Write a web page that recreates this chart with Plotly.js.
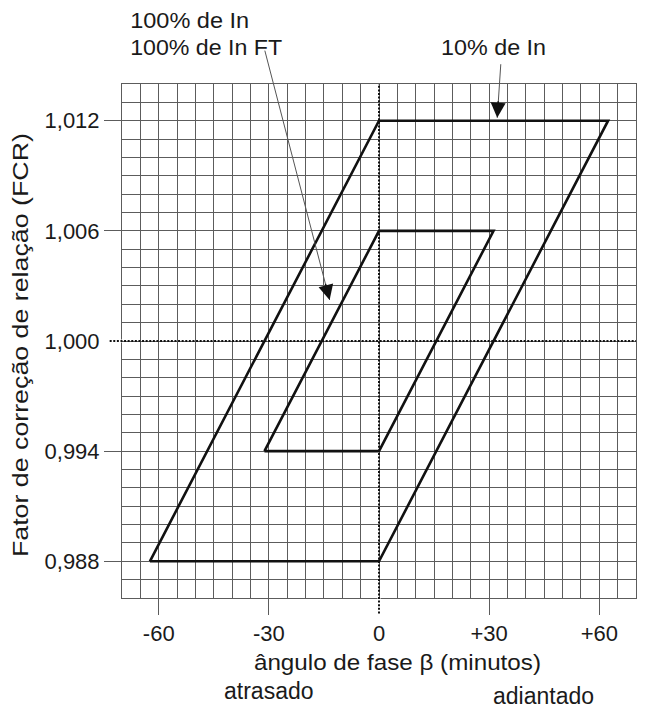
<!DOCTYPE html>
<html>
<head>
<meta charset="utf-8">
<script src="https://cdn.plot.ly/plotly-3.0.1.min.js"></script>
<style>
html,body{margin:0;padding:0;background:#fff;}
#chart{width:648px;height:709px;}
</style>
</head>
<body>
<div id="chart"></div>
<script>
// Data (phase angle β in minutes, FCR)
const outerPhase = [-62.4, 0, 62.4, 0, -62.4];
const outerFcr   = [0.988, 0.988, 1.012, 1.012, 0.988];
const innerPhase = [-31.2, 0, 31.2, 0, -31.2];
const innerFcr   = [0.994, 0.994, 1.006, 1.006, 0.994];
const xTickVals = [-60, -30, 0, 30, 60];
const xTickText = ['-60', '-30', '0', '+30', '+60'];
const yTickVals = [0.988, 0.994, 1.000, 1.006, 1.012];
const yTickText = ['0,988', '0,994', '1,000', '1,006', '1,012'];

const gridColor = '#5c5c5c';
const fam = 'Liberation Sans, Arial, sans-serif';
const tickFont = {family: fam, size: 22, color: '#1a1a1a'};
const annFont = {family: fam, size: 22, color: '#1a1a1a'};
const titleFont = {family: fam, size: 22, color: '#1a1a1a'};
const sideFont = {family: fam, size: 23, color: '#1a1a1a'};

const traces = [
  {x: outerPhase, y: outerFcr, mode: 'lines', line: {color: '#111', width: 2.6}, hoverinfo: 'none', showlegend: false},
  {x: innerPhase, y: innerFcr, mode: 'lines', line: {color: '#111', width: 2.6}, hoverinfo: 'none', showlegend: false}
];

const layout = {
  width: 648, height: 709,
  margin: {l: 122, r: 12, t: 84, b: 111},
  paper_bgcolor: '#fff', plot_bgcolor: '#fff',
  font: tickFont,
  showlegend: false,
  xaxis: {
    range: [-70, 70], tickvals: xTickVals, ticktext: xTickText,
    ticks: 'outside', ticklen: 16, tickwidth: 1, tickcolor: gridColor,
    showgrid: true, gridcolor: gridColor, gridwidth: 1,
    minor: {dtick: 5, tick0: 0, showgrid: true, gridcolor: gridColor, gridwidth: 1, ticks: ''},
    zeroline: false, showline: true, mirror: true, linecolor: gridColor, linewidth: 1,
    tickfont: tickFont, fixedrange: true
  },
  yaxis: {
    range: [0.986, 1.014], tickvals: yTickVals, ticktext: yTickText,
    ticks: 'outside', ticklen: 17, tickwidth: 1, tickcolor: gridColor,
    showgrid: true, gridcolor: gridColor, gridwidth: 1,
    minor: {dtick: 0.001, tick0: 0.986, showgrid: true, gridcolor: gridColor, gridwidth: 1, ticks: ''},
    zeroline: false, showline: true, mirror: true, linecolor: gridColor, linewidth: 1,
    tickfont: tickFont, fixedrange: true
  },
  shapes: [
    // cover the solid tick marks where dotted reference lines run
    {type: 'line', xref: 'x', yref: 'paper', x0: 0, x1: 0, y0: 0, y1: -0.04, line: {color: '#fff', width: 3}, layer: 'above'},
    {type: 'line', xref: 'paper', yref: 'y', x0: 0, x1: -0.04, y0: 1.0, y1: 1.0, line: {color: '#fff', width: 3}, layer: 'above'},
    // dotted reference lines
    {type: 'line', xref: 'x', yref: 'paper', x0: 0, x1: 0, y0: -0.03, y1: 1, line: {color: '#111', width: 2, dash: '2px,1.6px'}, layer: 'above'},
    {type: 'line', xref: 'paper', yref: 'y', x0: -0.024, x1: 1, y0: 1.0, y1: 1.0, line: {color: '#111', width: 2, dash: '2px,1.6px'}, layer: 'above'}
  ],
  annotations: [
    {text: '100% de In', xref: 'paper', yref: 'paper', x: 0.0208, y: 1.123, xanchor: 'left', yanchor: 'middle', showarrow: false, font: annFont, borderpad: 0},
    {text: '100% de In FT', xref: 'paper', yref: 'paper', x: 0.0208, y: 1.0706, xanchor: 'left', yanchor: 'middle', showarrow: false, font: annFont, borderpad: 0},
    {text: '10% de In', xref: 'paper', yref: 'paper', x: 0.624, y: 1.0706, xanchor: 'left', yanchor: 'middle', showarrow: false, font: annFont, borderpad: 0},
    // pointer lines (thin grey)
    {text: '', x: -13.45, y: 1.00224, ax: -31.2, ay: 1.0159, xref: 'x', yref: 'y', axref: 'x', ayref: 'y',
      showarrow: true, arrowhead: 0, arrowwidth: 1, arrowcolor: '#555'},
    {text: '', x: 32.2, y: 1.01216, ax: 33.2, ay: 1.01516, xref: 'x', yref: 'y', axref: 'x', ayref: 'y',
      showarrow: true, arrowhead: 0, arrowwidth: 1, arrowcolor: '#555'},
    // black arrow heads
    {text: '', x: -13.45, y: 1.00224, ax: -4.5, ay: -17.4, xref: 'x', yref: 'y',
      showarrow: true, arrowhead: 2, arrowsize: 2, arrowwidth: 1.5, arrowcolor: '#111'},
    {text: '', x: 32.2, y: 1.01216, ax: 1.1, ay: -18, xref: 'x', yref: 'y',
      showarrow: true, arrowhead: 2, arrowsize: 2, arrowwidth: 1.5, arrowcolor: '#111'},
    // axis titles and side labels
    {text: 'ângulo de fase β (minutos)', xref: 'paper', yref: 'paper', x: 0.536, y: -0.126, xanchor: 'center', yanchor: 'middle', showarrow: false, font: titleFont},
    {text: 'Fator de correção de relação (FCR)', xref: 'paper', yref: 'paper', x: -0.198, y: 0.492, xanchor: 'center', yanchor: 'middle', textangle: -90, showarrow: false, font: titleFont},
    {text: 'atrasado', xref: 'paper', yref: 'paper', x: 0.2866, y: -0.1817, xanchor: 'center', yanchor: 'middle', showarrow: false, font: sideFont},
    {text: 'adiantado', xref: 'paper', yref: 'paper', x: 0.82, y: -0.1897, xanchor: 'center', yanchor: 'middle', showarrow: false, font: sideFont}
  ]
};

Plotly.newPlot('chart', traces, layout, {displayModeBar: false, staticPlot: true}).then(function (gd) {
  // the reference typeface is wider than Arial: fit labels to their measured lengths
  const fitLen = {
    'Fator de correção de relação (FCR)': 424,
    'ângulo de fase β (minutos)': 287,
    '100% de In': 119,
    '100% de In FT': 152,
    '10% de In': 105
  };
  gd.querySelectorAll('text.annotation-text').forEach(function (t) {
    const len = fitLen[t.textContent];
    if (len) {
      t.setAttribute('textLength', len);
      t.setAttribute('lengthAdjust', 'spacingAndGlyphs');
    }
  });
});
</script>
</body>
</html>
